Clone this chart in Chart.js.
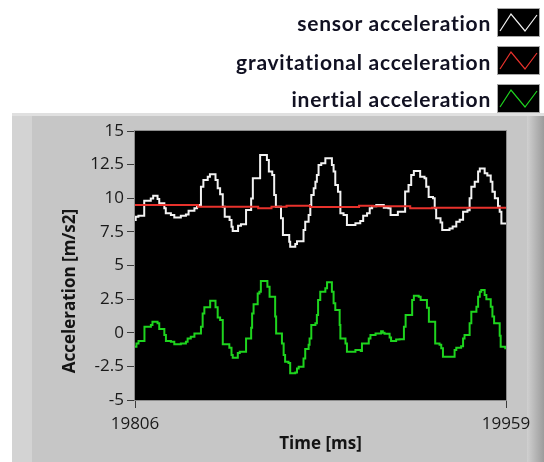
<!DOCTYPE html>
<html><head><meta charset="utf-8">
<script src="https://cdn.jsdelivr.net/npm/chart.js@4.4.1/dist/chart.umd.min.js"></script>
<style>
html,body{margin:0;padding:0;background:#fff;width:544px;height:462px;overflow:hidden;}
#wrap{position:absolute;left:0;top:0;width:544px;height:462px;}
canvas{position:absolute;left:0;top:0;}
.leg{position:absolute;right:53px;font-family:Lato,sans-serif;font-weight:bold;font-size:21px;letter-spacing:0.75px;color:#111122;white-space:nowrap;line-height:21px;}
.sw{position:absolute;left:497px;width:43px;height:29px;}
</style></head>
<body>
<div id="wrap">
<canvas id="c" width="544" height="462"></canvas>
<div id="legend"></div>
</div>
<script>
// ---- data (time offsets in ms from START, values in m/s2) ----
const START = 19806;
const END = 19959;
const X_TICKS = [19806, 19959];
const Y_TICKS = [-5, -2.5, 0, 2.5, 5, 7.5, 10, 12.5, 15];
const SERIES_NAMES = ['sensor acceleration', 'gravitational acceleration', 'inertial acceleration'];
const SERIES_COLORS = ['#f2f2f2', '#e8322c', '#1ed41e'];

const sensorT = [0,0.3,1.4,3.8,6.5,7.5,9.3,10,12.1,12.7,14.8,16.2,18.9,21,22.1,24.5,25.6,27.2,28.2,30,30.9,33.2,34.1,35.1,36.2,37,39,39.8,40.3,42.5,43.7,45.8,47.9,48.6,51.6,54.4,55.2,56.6,57.4,58.1,60.2,61,63.6,64,66.1,66.8,69.5,70.2,71.6,72.3,72.7,73.7,74.4,75,75.7,76.8,78.5,81.2,81.9,82.6,83.7,84.7,86,87.4,90.9,92.9,94.1,95.7,96.8,97.8,99.5,102.6,104.5,105.4,108.4,111.4,112.8,113.9,115,117.6,119.4,120.1,121.1,122.9,123.6,124.2,126,126.7,129.7,131,132.5,133.9,135.3,137.1,138,138.7,140.1,141.5,142.2,144.2,145.3,146.7,147.4,148.4,149.7,150.4,151.1,153];
const sensorV = [8.38,8.63,8.7,9.82,9.99,10.19,9.94,9.62,9.25,8.88,8.75,8.56,8.7,8.8,9.07,9.25,9.5,10.86,11.36,11.6,11.78,11.36,10.74,10.29,9.37,8.63,8.38,7.89,7.57,7.96,8.06,9.12,9.99,11.48,13.22,12.85,11.98,11.73,10.24,9.37,8.51,7.27,6.77,6.4,6.6,6.8,7.64,8.26,8.75,9.5,10.24,10.74,11.23,11.73,12.47,12.6,12.97,12.47,11.98,10.98,10.49,8.88,8.75,8.01,8.15,8.3,8.7,8.88,9.25,9.4,9.5,9.3,9.25,8.75,9.0,10.5,10.98,11.73,12.03,11.6,11.48,10.86,10.1,10.0,9.25,8.51,8.2,7.64,7.76,7.9,8.26,8.4,9.0,9.1,10.0,10.86,11.23,11.98,12.22,11.85,11.7,11.23,10.49,10.0,9.4,9.0,8.13,8.13];

const gravT = [0,26,50.8,56.3,62.5,72.2,92.4,98.2,113.5,122.5,153];
const gravV = [9.5,9.37,9.25,9.37,9.45,9.35,9.45,9.4,9.25,9.3,9.3];

const inertT = [0,0.6,1.45,3.9,6.55,7.2,9.3,10,12.1,12.75,14.8,16.2,18.9,21,21.7,23,24.5,27.2,27.9,28.6,31,33.2,34.1,35.1,36.2,38.9,39.8,40.3,42.4,43.2,45.8,47.9,48.3,48.9,50.6,51.3,51.9,54.6,55.5,57.8,58.2,60.6,61.3,61.9,63.3,64,66.1,66.8,67.5,69.5,70.2,71.6,72,72.7,74.4,75,75.5,76.4,78.5,79.2,81.2,81.9,82.6,84.4,84.7,86.8,87.4,90.9,93.1,93.6,96.4,97.1,99.2,101.5,102.2,102.9,105,105.6,107.7,109.1,110.9,111.6,114.3,115,117,117.8,120.4,121.2,123.8,125.6,126.3,127,131.8,132.5,134.5,135.3,135.9,138,138.7,140.8,141.5,142.2,142.8,144.2,144.9,146.7,147.4,148.1,150.4,150.8,152.7,153];
const inertV = [-1.04,-0.79,-0.62,0.45,0.57,0.82,0.7,0.27,-0.17,-0.62,-0.67,-0.86,-0.79,-0.67,-0.42,-0.3,-0.05,0.45,1.44,1.89,2.38,1.89,1.14,0.95,-0.86,-1.11,-1.66,-1.86,-1.5,-1.41,-0.42,0.37,1.44,2.11,2.92,3.05,3.84,3.42,2.68,1.2,-0.05,-0.79,-1.66,-2.15,-2.25,-3.02,-2.95,-2.65,-2.52,-1.91,-1.21,-0.9,-0.42,0.57,0.7,1.32,2.43,3.05,3.3,3.75,3.05,2.19,1.69,0.57,-0.42,-0.79,-1.41,-1.29,-1.35,-0.79,-0.42,-0.17,-0.05,0.12,0.0,-0.08,-0.35,-0.62,-0.5,-0.48,0.45,1.32,2.43,2.75,2.68,2.43,1.86,0.82,-0.79,-0.9,-1.16,-1.78,-1.29,-1.11,-1.0,-0.42,-0.17,0.7,1.56,1.94,2.68,3.05,3.17,2.8,2.5,1.94,1.2,0.7,-0.23,-1.04,-1.16,-1.16];

// ---- legend (HTML text) ----
const legendRows = [{baseline: 29, box: 8}, {baseline: 68, box: 46}, {baseline: 105, box: 84}];
const legend = document.getElementById('legend');
SERIES_NAMES.forEach((name, i) => {
  const t = document.createElement('div');
  t.className = 'leg';
  t.textContent = name;
  t.style.top = (legendRows[i].baseline - 17) + 'px';
  legend.appendChild(t);
  const s = document.createElement('div');
  s.className = 'sw';
  s.style.top = legendRows[i].box + 'px';
  s.innerHTML = '<svg width="43" height="29"><rect x="0.5" y="0.5" width="42" height="28" fill="#000" stroke="#a8a8a8"/>' +
    '<polyline points="3,23 14,6 28,23 40,7" fill="none" stroke="' + SERIES_COLORS[i] + '" stroke-width="1.2"/></svg>';
  legend.appendChild(s);
});

const pts = (T, V) => T.map((t, i) => ({x: START + t, y: V[i]}));

const panelPlugin = {
  id: 'panel',
  beforeDraw(chart) {
    const ctx = chart.ctx, ca = chart.chartArea;
    ctx.save();
    ctx.fillStyle = '#ffffff';
    ctx.fillRect(0, 0, chart.width, chart.height);
    ctx.fillStyle = '#c6c6c6';
    ctx.fillRect(12, 113, chart.width - 12, chart.height - 113);
    ctx.fillStyle = '#d3d3d3';
    ctx.fillRect(12, 116, 20, chart.height - 116);
    ctx.fillStyle = '#e0e0e0';
    ctx.fillRect(12, 113, chart.width - 12, 3);
    const g = ctx.createLinearGradient(527, 0, 544, 0);
    g.addColorStop(0, '#d0d0d0');
    g.addColorStop(1, '#9c9c9c');
    ctx.fillStyle = g;
    ctx.fillRect(527, 116, 17, chart.height - 116);
    ctx.fillStyle = '#000';
    ctx.fillRect(ca.left, ca.top, ca.right - ca.left, ca.bottom - ca.top);
    ctx.restore();
  },
  afterDatasetsDraw(chart) {
    const ctx = chart.ctx, ca = chart.chartArea;
    ctx.save();
    ctx.strokeStyle = '#8c8c8c';
    ctx.lineWidth = 1;
    ctx.strokeRect(ca.left - 0.5, ca.top - 0.5, ca.right - ca.left + 1, ca.bottom - ca.top + 1);
    ctx.restore();
  },
  afterDraw(chart) {
    const ctx = chart.ctx;
    ctx.save();
    ctx.translate(70, 291);
    ctx.rotate(-Math.PI / 2);
    ctx.font = 'bold 17px "Open Sans"';
    ctx.fillStyle = '#141414';
    ctx.textAlign = 'center';
    ctx.textBaseline = 'middle';
    ctx.fillText('Acceleration [m/s2]', 0, 0);
    ctx.restore();
  }
};

const tickFont = {family: 'Open Sans', size: 17};
new Chart(document.getElementById('c'), {
  type: 'line',
  data: {
    datasets: [
      {label: SERIES_NAMES[0], data: pts(sensorT, sensorV), borderColor: SERIES_COLORS[0], borderWidth: 2, stepped: true, pointRadius: 0, order: 2},
      {label: SERIES_NAMES[1], data: pts(gravT, gravV), borderColor: SERIES_COLORS[1], borderWidth: 2, stepped: true, pointRadius: 0, order: 1},
      {label: SERIES_NAMES[2], data: pts(inertT, inertV), borderColor: SERIES_COLORS[2], borderWidth: 2, stepped: true, pointRadius: 0, order: 3}
    ]
  },
  options: {
    responsive: false,
    animation: false,
    layout: {padding: {left: 58, right: 38, top: 131, bottom: 0}},
    plugins: {legend: {display: false}, tooltip: {enabled: false}},
    scales: {
      x: {
        type: 'linear', min: START, max: END,
        afterFit: s => { s.height = 62; },
        afterBuildTicks: s => { s.ticks = X_TICKS.map(v => ({value: v})); },
        ticks: {font: tickFont, color: '#1a1a1a', padding: 6, maxRotation: 0, autoSkip: false, callback: v => String(v)},
        grid: {drawOnChartArea: false, drawTicks: true, tickLength: 8, tickColor: '#3a3a3a'},
        border: {display: false},
        title: {display: true, text: 'Time [ms]', color: '#141414', font: {family: 'Open Sans', size: 17, weight: 'bold'}, padding: {top: 0, bottom: 8}}
      },
      y: {
        type: 'linear', min: -5, max: 15,
        afterFit: s => { s.width = 77; },
        afterBuildTicks: s => { s.ticks = Y_TICKS.map(v => ({value: v})); },
        ticks: {font: tickFont, color: '#1a1a1a', padding: 3, callback: v => String(v)},
        grid: {drawOnChartArea: false, drawTicks: true, tickLength: 8, tickColor: '#3a3a3a'},
        border: {display: false},
        title: {display: false}
      }
    }
  },
  plugins: [panelPlugin]
});
</script>
</body></html>
